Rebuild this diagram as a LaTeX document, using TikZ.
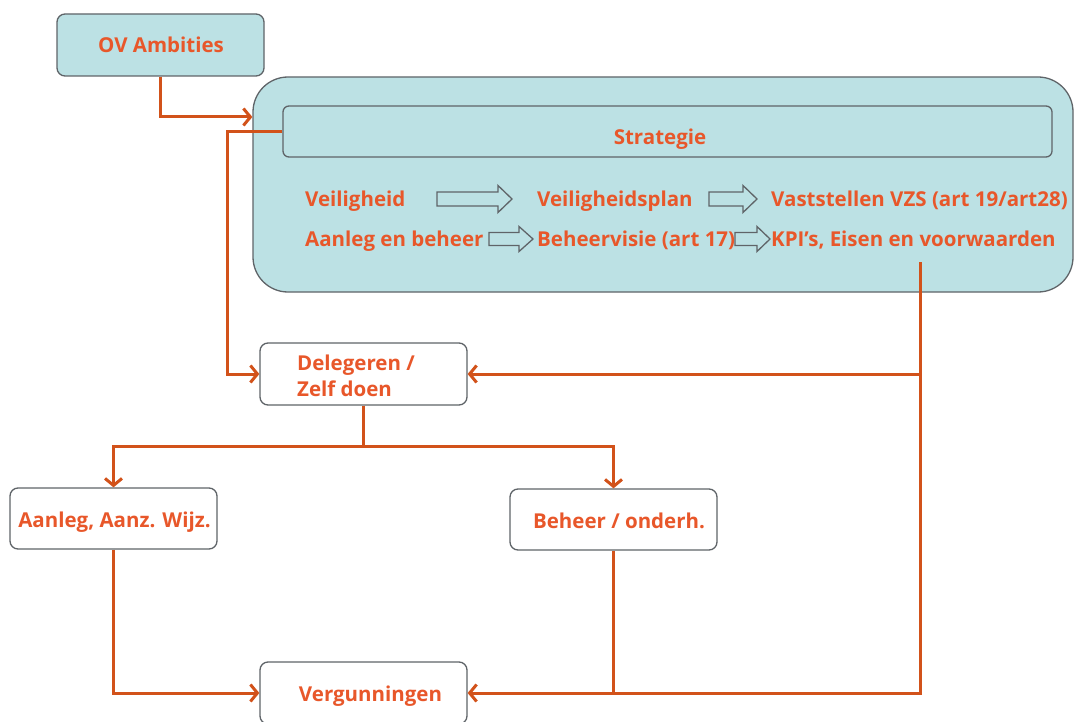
\documentclass[tikz,border=0pt]{standalone}
\usepackage{fontspec}
\setmainfont{Open Sans}
\usetikzlibrary{arrows.meta}
\definecolor{txt}{HTML}{E8572A}
\definecolor{ln}{HTML}{D2521A}
\definecolor{bfill}{HTML}{BCE1E4}
\definecolor{bord}{HTML}{5F6468}
\tikzset{
  lbl/.style={text=txt,font=\bfseries\fontsize{20.5}{24}\selectfont,inner sep=0},
  bluebox/.style={draw=bord,line width=1.3pt,fill=bfill,rounded corners=8pt,inner sep=0},
  whitebox/.style={draw=bord,line width=1.3pt,fill=white,rounded corners=8pt,inner sep=0,minimum width=207pt},
  conn/.style={draw=ln,line width=3pt,-{Straight Barb[length=7pt,width=17pt,line width=3pt]}},
  plain/.style={draw=ln,line width=3pt},
  hollowline/.style={draw=bord,line width=1.3pt,fill=bfill,line join=miter},
}
% hollow block arrow: #1 = left x, #2 = head start x, #3 = tip x, #4 = centre y, #5 = shaft half height, #6 = head half height
\newcommand{\blockarrow}[6]{%
  \draw[hollowline] (#1,#4-#5) -- (#2,#4-#5) -- (#2,#4-#6) -- (#3,#4) -- (#2,#4+#6) -- (#2,#4+#5) -- (#1,#4+#5) -- cycle;}
\begin{document}
\begin{tikzpicture}[x=1pt,y=-1pt]
\useasboundingbox (0,0) rectangle (1075,722);
\node[bluebox,minimum width=207pt,minimum height=62pt] (ov) at (160.5,45) {};
\node[lbl,anchor=base] at (161,53) {OV Ambities};
\node[bluebox,rounded corners=35pt,minimum width=820pt,minimum height=215pt] (big) at (663,184.5) {};
\node[bluebox,rounded corners=6pt,minimum width=769pt,minimum height=51pt] (strat) at (667.5,131.5) {};
\node[lbl,anchor=base] at (660,145) {Strategie};
% rows
\node[lbl,anchor=base west] (r1a) at (305,206) {Veiligheid};
\blockarrow{437}{498}{512}{199}{7}{13.5}
\node[lbl,anchor=base west] (r1b) at (537,206) {Veiligheidsplan};
\blockarrow{709}{743}{757}{199}{7}{13.5}
\node[lbl,anchor=base west] (r1c) at (771,206) {Vaststellen VZS (art 19/art28)};
\node[lbl,anchor=base west] (r2a) at (305,246) {Aanleg en beheer};
\blockarrow{489}{519}{533}{239}{6.5}{12.5}
\node[lbl,anchor=base west] (r2b) at (537,246) {Beheervisie (art 17)};
\blockarrow{735}{757}{770}{239}{6.5}{12.5}
\node[lbl,anchor=base west] (r2c) at (771,246) {KPI’s, Eisen en voorwaarden};
\coordinate (kpi) at (920,262);
% lower boxes
\node[whitebox,minimum height=62pt] (deleg) at (363.5,374) {};
\node[lbl,anchor=base west] at (297,370) {Delegeren /};
\node[lbl,anchor=base west] at (297,396) {Zelf doen};
\node[whitebox,minimum height=61pt] (aanleg) at (113.5,518.5) {};
\node[lbl,anchor=base] at (114.5,527) {Aanleg, Aanz. Wijz.};
\node[whitebox,minimum height=61pt] (beheer) at (613.5,519.5) {};
\node[lbl,anchor=base] at (619,528) {Beheer / onderh.};
\node[whitebox,minimum height=62pt] (verg) at (363.5,693) {};
\node[lbl,anchor=base] at (370.5,701) {Vergunningen};
% connectors
\draw[conn] (ov.south) |- (big.west |- 0,117);
\draw[conn] (strat.west) -- ++(-55,0) |- (deleg.west);
\draw[conn] (kpi) |- (deleg.east);
\draw[conn] (kpi) |- (verg.east);
\draw[conn] (deleg.south) -- ++(0,41) -| (aanleg.north);
\draw[conn] (deleg.south) -- ++(0,41) -| (beheer.north);
\draw[conn] (aanleg.south) |- (verg.west);
\draw[plain] (beheer.south) -- (beheer.south |- verg.east);
\end{tikzpicture}
\end{document}
